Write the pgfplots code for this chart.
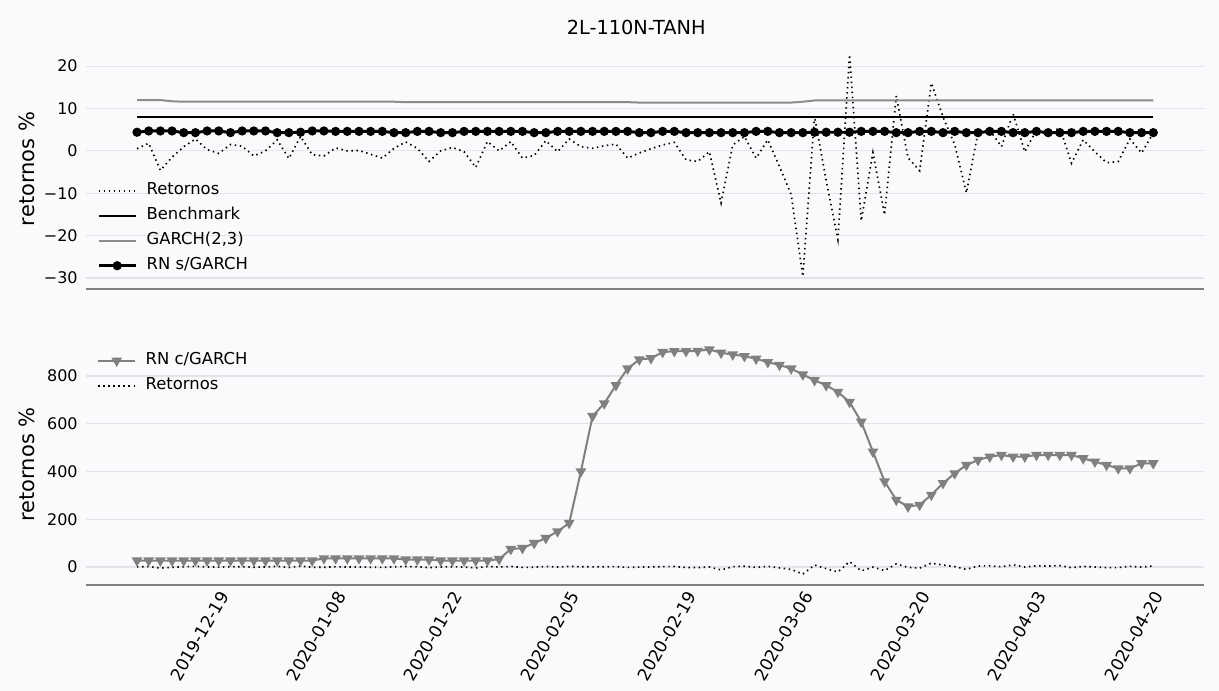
\documentclass[border=0pt]{standalone}
\usepackage{fontspec}
\setmainfont{DejaVu Sans}
\usepackage{pgfplots}
\usepackage{pgfplotstable}
\pgfplotsset{compat=1.18}
\definecolor{bg}{RGB}{250,250,253}
\definecolor{gridc}{RGB}{226,228,232}
\definecolor{spine}{RGB}{128,128,128}
\definecolor{garchc}{RGB}{140,140,140}
\definecolor{rncc}{RGB}{128,128,128}

\pgfplotstableread{
i ret rns garch rnc
0 0.5 4.4 12.0 27
1 1.8 4.7 12.0 27
2 -4.6 4.7 12.0 27
3 -1.5 4.7 11.7 27
4 1.0 4.3 11.6 27
5 2.8 4.3 11.6 27
6 0.3 4.7 11.6 27
7 -0.6 4.7 11.6 27
8 1.5 4.3 11.6 27
9 1.1 4.7 11.6 27
10 -1.2 4.7 11.6 27
11 0.0 4.7 11.6 27
12 2.6 4.3 11.6 27
13 -1.8 4.3 11.6 27
14 3.4 4.4 11.6 27
15 -0.9 4.7 11.6 27
16 -1.2 4.7 11.6 36
17 0.7 4.6 11.6 36
18 0.0 4.6 11.6 36
19 0.1 4.6 11.6 36
20 -0.8 4.6 11.6 36
21 -1.7 4.6 11.6 36
22 0.6 4.3 11.6 36
23 2.1 4.3 11.5 31
24 0.6 4.6 11.5 31
25 -2.5 4.6 11.5 31
26 0.0 4.3 11.5 27
27 0.8 4.3 11.5 27
28 -0.2 4.6 11.5 27
29 -3.9 4.6 11.5 27
30 2.2 4.6 11.5 27
31 0.0 4.6 11.5 33
32 2.2 4.6 11.5 75
33 -1.7 4.6 11.5 79
34 -1.1 4.3 11.5 100
35 2.4 4.3 11.5 121
36 -0.2 4.6 11.5 149
37 2.8 4.6 11.5 184
38 1.0 4.6 11.5 400
39 0.6 4.6 11.5 632
40 1.2 4.6 11.5 685
41 1.6 4.6 11.5 761
42 -1.7 4.6 11.5 831
43 -0.5 4.3 11.4 869
44 0.5 4.3 11.4 874
45 1.4 4.6 11.4 900
46 2.0 4.6 11.4 904
47 -2.1 4.3 11.4 904
48 -2.5 4.3 11.4 905
49 -0.2 4.3 11.4 911
50 -12.3 4.3 11.4 897
51 1.4 4.3 11.4 890
52 3.4 4.3 11.4 883
53 -1.7 4.6 11.4 872
54 2.6 4.6 11.4 858
55 -3.7 4.3 11.4 846
56 -10.3 4.3 11.4 831
57 -29.6 4.3 11.6 806
58 8.2 4.4 11.9 782
59 -7.0 4.4 11.9 761
60 -20.9 4.4 11.9 733
61 22.7 4.4 11.9 691
62 -16.5 4.6 11.9 608
63 -0.4 4.6 11.9 483
64 -15.1 4.6 11.9 358
65 13.0 4.3 11.9 281
66 -1.6 4.3 11.9 253
67 -4.7 4.6 11.9 260
68 16.0 4.6 11.9 302
69 8.0 4.3 11.9 351
70 1.5 4.6 11.9 392
71 -9.9 4.3 11.9 427
72 4.4 4.3 11.9 448
73 4.9 4.6 11.9 462
74 1.0 4.6 11.9 469
75 8.8 4.3 11.9 462
76 -0.2 4.3 11.9 462
77 4.9 4.6 11.9 469
78 3.8 4.3 11.9 469
79 5.5 4.3 11.9 469
80 -2.9 4.3 11.9 469
81 2.6 4.6 11.9 455
82 -0.2 4.6 11.9 441
83 -2.8 4.6 11.9 427
84 -2.5 4.6 11.9 413
85 2.8 4.3 11.9 413
86 -0.5 4.3 11.9 434
87 4.2 4.3 11.9 434
}\data

\pgfplotsset{
  panel/.style={
    scale only axis, width=838.4pt,
    xmin=-4.35, xmax=91.35,
    axis x line*=bottom, axis y line*=left,
    y axis line style={draw=none},
    x axis line style={draw=spine, line width=1.1pt},
    major tick length=0pt,
    ymajorgrids, grid style={gridc, line width=0.8pt},
    tick label style={font=\fontsize{12}{14}\selectfont},
    yticklabel style={inner sep=0pt, xshift=-6.2pt},
    ylabel style={font=\fontsize{15.75}{18}\selectfont},
    legend cell align=left,
    legend image code/.code={\draw[mark repeat=2,mark phase=2,##1] plot coordinates {(0pt,0pt) (14pt,0pt) (28pt,0pt)};},
    legend style={draw=none, fill=none, inner sep=0pt, outer sep=0pt,
      font=\fontsize{12.3}{14}\selectfont,
      nodes={inner sep=2pt, text height=9pt, text depth=3pt},
      row sep=2.75pt,
      /tikz/every odd column/.append style={column sep=5pt}},
  },
  retstyle/.style={black, line width=1.25pt, dash pattern=on 1.1pt off 2.7pt},
}

\begin{document}
\begin{tikzpicture}
\fill[bg] (0pt,0pt) rectangle (914.25pt,518.25pt);
\useasboundingbox (0pt,0pt) rectangle (914.25pt,518.25pt);

% top panel
\begin{axis}[panel,
  at={(64.65pt,301.5pt)}, anchor=south west,
  height=185.25pt,
  ymin=-32.6, ymax=25.7,
  xtick=\empty,
  ytick={-30,-20,-10,0,10,20},
  yticklabels={−30,−20,−10,0,10,20},
  ylabel={retornos \%},
  ylabel style={at={(axis description cs:-0.053,0.486)}, anchor=center},
  title={2L-110N-TANH},
  title style={at={(axis description cs:0.492,1.057)}, anchor=center, yshift=-6pt, font=\fontsize{14.5}{16}\selectfont},
  legend style={at={(0.0097,0.441)}, anchor=north west},
]
\addplot[retstyle] table[x=i,y=ret]{\data};
\addlegendentry{Retornos}
\addplot[black, line width=1.5pt] coordinates {(0,7.9) (87,7.9)};
\addlegendentry{Benchmark}
\addplot[garchc, line width=1.5pt] table[x=i,y=garch]{\data};
\addlegendentry{GARCH(2,3)}
\addplot[black, line width=2.2pt, mark=*, mark size=2.3pt] table[x=i,y=rns]{\data};
\addlegendentry{RN s/GARCH}
\end{axis}

% bottom panel
\begin{axis}[panel,
  at={(64.65pt,79.5pt)}, anchor=south west,
  height=184.5pt,
  ymin=-75.4, ymax=955,
  xtick={6,16,26,36,46,56,66,76,86},
  xticklabels={2019-12-19,2020-01-08,2020-01-22,2020-02-05,2020-02-19,2020-03-06,2020-03-20,2020-04-03,2020-04-20},
  xticklabel style={inner sep=0pt, font=\fontsize{12.8}{14}\selectfont, xshift=13pt, yshift=-6pt, rotate=60, anchor=east},
  ytick={0,200,400,600,800},
  yticklabels={0,200,400,600,800},
  ylabel={retornos \%},
  ylabel style={at={(axis description cs:-0.053,0.49)}, anchor=center},
  legend style={at={(0.0097,0.955)}, anchor=north west},
]
\addplot[rncc, line width=1.5pt, mark=triangle*, mark size=3.2pt, mark options={rotate=180}] table[x=i,y=rnc]{\data};
\addlegendentry{RN c/GARCH}
\addplot[retstyle] table[x=i,y=ret]{\data};
\addlegendentry{Retornos}
\end{axis}
\end{tikzpicture}
\end{document}
